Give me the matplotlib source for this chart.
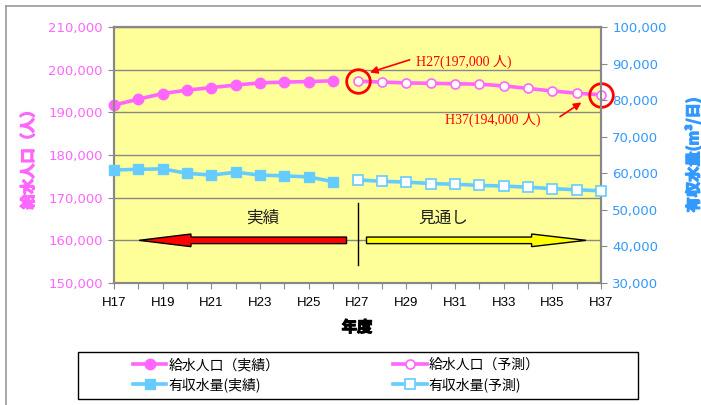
import matplotlib.pyplot as plt
import numpy as np
import matplotlib.patheffects as pe
from matplotlib.lines import Line2D
from matplotlib.patches import Polygon, Rectangle

plt.rcParams['font.family'] = ['DejaVu Sans', 'Noto Sans CJK JP']

# data
years_act = list(range(17, 27))
years_pred = list(range(27, 38))
pop_act = [191700, 193100, 194400, 195200, 195800, 196400, 196900, 197100, 197200, 197400]
pop_pred = [197300, 197100, 196900, 196800, 196700, 196600, 196200, 195600, 195000, 194500, 194100]
vol_act = [60900, 61100, 61200, 60000, 59500, 60300, 59500, 59300, 59000, 57700]
vol_pred = [58200, 57800, 57600, 57200, 57000, 56700, 56500, 56200, 55800, 55500, 55200]
legend_labels = ['給水人口（実績）', '有収水量(実績)', '給水人口（予測）', '有収水量(予測)']

PINK = '#FF66FF'
BLUE = '#66CCFF'
BLUE_TXT = '#3399FF'
JP = ['Noto Sans CJK JP', 'DejaVu Sans']

fig = plt.figure(figsize=(7.01, 4.05), dpi=100)
ax = fig.add_axes([114/701, 1-283/405, 487/701, 256/405])
ax.set_facecolor('#FFFF99')
ax2 = ax.twinx()

ax.set_xlim(17, 37)
ax.set_ylim(150000, 210000)
ax2.set_ylim(30000, 100000)
ax.set_yticks(np.arange(150000, 210001, 10000))
ax2.set_yticks(np.arange(30000, 100001, 10000))
ax.set_yticklabels(['{:,}'.format(v) for v in range(150000, 210001, 10000)])
ax2.set_yticklabels(['{:,}'.format(v) for v in range(30000, 100001, 10000)])
ax.set_xticks(range(17, 38))
ax.set_xticklabels([('H%d' % y) if (y - 17) % 2 == 0 else '' for y in range(17, 38)],
                   family=['Liberation Sans'], fontsize=9.5)
ax.grid(axis='y', color='#888888', lw=1)
ax.set_axisbelow(True)

for a in (ax, ax2):
    for s in a.spines.values():
        s.set_color('#888888')
        s.set_linewidth(1.5)
ax.tick_params(axis='y', colors='#888888', labelcolor=PINK, labelsize=9.5, length=4, pad=4)
ax2.tick_params(axis='y', colors='#888888', labelcolor=BLUE_TXT, labelsize=9.5, length=4, pad=4)
ax.tick_params(axis='x', colors='#888888', labelcolor='black', length=4, pad=6)

# series
l1, = ax.plot(years_act, pop_act, color=PINK, lw=2.6, marker='o', ms=7.5, zorder=5, clip_on=False)
l2, = ax.plot(years_pred, pop_pred, color=PINK, lw=2.6, marker='o', ms=6.5,
              mfc='white', mec=PINK, mew=1.2, zorder=5, clip_on=False)
l3, = ax2.plot(years_act, vol_act, color=BLUE, lw=2.6, marker='s', ms=7, zorder=5, clip_on=False)
l4, = ax2.plot(years_pred, vol_pred, color=BLUE, lw=2.6, marker='s', ms=6.5,
               mfc='white', mec=BLUE, mew=1.2, zorder=5, clip_on=False)

# highlight circles
ax.plot([27, 37], [pop_pred[0], pop_pred[-1]], ls='none', marker='o', ms=17,
        mfc='none', mec='red', mew=2, zorder=6, clip_on=False)
ax.annotate('', xy=(27.4, 199160), xytext=(29.25, 202500),
            arrowprops=dict(arrowstyle='-|>', color='red', lw=1.2, mutation_scale=11), zorder=7)
ax.text(29.39, 201870, 'H27(197,000 人)', color='red', fontsize=10, va='center', ha='left',
        family=['Liberation Serif', 'Noto Sans CJK JP'], zorder=7)
ax.annotate('', xy=(36.29, 192670), xytext=(35.22, 188620),
            arrowprops=dict(arrowstyle='-|>', color='red', lw=1.2, mutation_scale=11), zorder=7)
ax.text(34.53, 188220, 'H37(194,000 人)', color='red', fontsize=10, va='center', ha='right',
        family=['Liberation Serif', 'Noto Sans CJK JP'], zorder=7)

# period arrows
def big_arrow(tail, tip, base, color):
    yc, hb, hh = 160000, 770, 1480
    pts = [(tail, yc - hb), (base, yc - hb), (base, yc - hh), (tip, yc),
           (base, yc + hh), (base, yc + hb), (tail, yc + hb)]
    ax.add_patch(Polygon(pts, closed=True, fc=color, ec='black', lw=1, zorder=4))

big_arrow(26.55, 18.03, 20.16, 'red')
big_arrow(27.37, 36.38, 34.15, 'yellow')
ax.plot([27, 27], [154260, 168780], color='black', lw=1, zorder=4)
ax.text(23.1, 165270, '実績', fontsize=12, ha='center', va='center', family=JP, color='#222222')
ax.text(30.54, 165270, '見通し', fontsize=12, ha='center', va='center', family=JP, color='#222222')

# labels (stroke to thicken the CJK glyphs)
fig.text(28/701, 1-156/405, '給水人口（人）', rotation=90, color=PINK, fontsize=11,
         fontweight='bold', ha='center', va='center', family=JP,
         path_effects=[pe.withStroke(linewidth=0.9, foreground=PINK)])
fig.text(693/701, 1-155/405, '有収水量(m³/日)', rotation=90, color=BLUE_TXT, fontsize=11,
         fontweight='bold', ha='center', va='center', family=JP,
         path_effects=[pe.withStroke(linewidth=0.9, foreground=BLUE_TXT)])
fig.text(357/701, 1-327/405, '年度', fontsize=11, fontweight='bold', ha='center',
         va='center', family=JP, path_effects=[pe.withStroke(linewidth=0.9, foreground='black')])

fig.legend([l1, l3, l2, l4], legend_labels,
           ncol=2, loc='center left', bbox_to_anchor=(133/701, 1-375/405),
           frameon=False, prop={'family': JP, 'size': 10}, handlelength=2.4,
           handletextpad=0.15, labelspacing=0.35, columnspacing=8.2,
           borderpad=0, borderaxespad=0)
fig.add_artist(Rectangle((78/701, 1-399/405), 560/701, 47/405, transform=fig.transFigure,
                         fc='none', ec='black', lw=1))

# outer frame
fig.add_artist(Line2D([6/701, 6/701], [0, 1-6/405], color='#999999', lw=1.2))
fig.add_artist(Line2D([6/701, 1], [1-6/405, 1-6/405], color='#999999', lw=1.2))

fig.savefig('out.png', dpi=100)
